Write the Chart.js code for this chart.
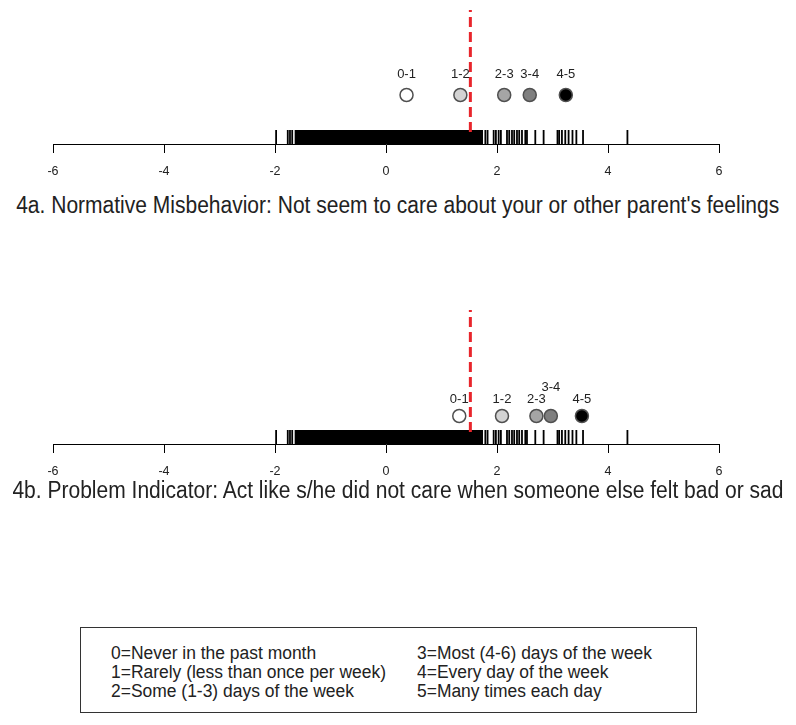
<!DOCTYPE html>
<html>
<head>
<meta charset="utf-8">
<script src="https://cdn.jsdelivr.net/npm/chart.js@4.4.1/dist/chart.umd.min.js"></script>
<style>
  body { margin: 0; background: #fff; font-family: "Liberation Sans", Arial, sans-serif; color: #222; }
  #wrap { position: relative; width: 796px; height: 725px; overflow: hidden; }
  .panel { position: absolute; left: 0; width: 796px; height: 190px; }
  .title { position: absolute; left: 0; width: 796px; height: 30px; line-height: 30px; font-size: 23px; white-space: nowrap; display: flex; justify-content: center; }
  .title span { display: inline-block; flex: none; transform-origin: center; }
  #legend { position: absolute; left: 80px; top: 627px; width: 615px; height: 84px; border: 1px solid #333; }
  .col { position: absolute; top: 16px; font-size: 18px; line-height: 19px; white-space: nowrap; transform-origin: left top; }
</style>
</head>
<body>
<div id="wrap">
  <div class="panel" style="top:0px"><canvas id="chart_a" width="796" height="190"></canvas></div>
  <div class="title" style="top:190px"><span class="fit" data-w="763">4a. Normative Misbehavior: Not seem to care about your or other parent's feelings</span></div>

  <div class="panel" style="top:300px"><canvas id="chart_b" width="796" height="190"></canvas></div>
  <div class="title" style="top:475px"><span class="fit" data-w="771">4b. Problem Indicator: Act like s/he did not care when someone else felt bad or sad</span></div>

  <div id="legend">
    <div class="col fit" data-w="275" style="left:30px">0=Never in the past month<br>1=Rarely (less than once per week)<br>2=Some (1-3) days of the week</div>
    <div class="col fit" data-w="235" style="left:336px">3=Most (4-6) days of the week<br>4=Every day of the week<br>5=Many times each day</div>
  </div>
</div>

<script>
// 数据
const xTicks = [-6, -4, -2, 0, 2, 4, 6];
const rugMarks = [-1.98, -1.77, -1.73, -1.69,
  1.79, 1.83, 1.94, 1.98, 2.03, 2.07, 2.18, 2.22, 2.27, 2.31, 2.36, 2.40, 2.45, 2.51, 2.54,
  2.69, 2.84, 3.09, 3.12, 3.17, 3.23, 3.29, 3.36, 3.43, 3.55, 4.35];
const denseRange = [-1.65, 1.75];   // rug too dense to separate
const cutPoint = 1.52;
const stepLabels = ["0-1", "1-2", "2-3", "3-4", "4-5"];
const stepFill = ["#ffffff", "#d3d3d3", "#a5a5a5", "#7f7f7f", "#000000"];
const stepLocA = [0.37, 1.34, 2.13, 2.59, 3.24];
const stepLocB = [1.32, 2.09, 2.71, 2.97, 3.53];

const FONT = '"Liberation Sans", Arial, sans-serif';
const RUG_H = 14;

// 标签插件
const stepLabelPlugin = {
  id: "stepLabels",
  afterDatasetsDraw(chart, args, opts) {
    const { ctx, scales } = chart;
    ctx.save();
    ctx.font = "13px " + FONT;
    ctx.fillStyle = "#222";
    ctx.textAlign = "center";
    ctx.textBaseline = "middle";
    opts.locs.forEach((v, i) => {
      ctx.fillText(stepLabels[i], scales.x.getPixelForValue(v), scales.y.getPixelForValue(opts.labelY[i]));
    });
    ctx.restore();
  }
};

function makePanel(id, locs, dotY, labelY) {
  new Chart(document.getElementById(id), {
    type: "scatter",
    data: {
      datasets: [
        {
          data: locs.map(v => ({ x: v, y: dotY })),
          backgroundColor: stepFill,
          borderColor: "#505050",
          borderWidth: 1.5,
          pointRadius: 6.5,
        },
        {
          type: "line",
          data: [{ x: cutPoint, y: 12 }, { x: cutPoint, y: 134 }],
          borderColor: "#e8252b",
          borderWidth: 3,
          borderDash: [10, 5],
          pointRadius: 0,
          fill: false,
        },
        {
          data: rugMarks.map(v => ({ x: v, y: RUG_H / 2 })),
          pointStyle: "line",
          rotation: 90,
          pointRadius: RUG_H / 2,
          borderColor: "#000",
          borderWidth: 1.8,
        },
        {
          type: "line",
          data: [{ x: denseRange[0], y: RUG_H }, { x: denseRange[1], y: RUG_H }],
          borderWidth: 0,
          pointRadius: 0,
          backgroundColor: "#000",
          fill: "origin",
        },
      ],
    },
    options: {
      responsive: false,
      animation: false,
      events: [],
      layout: { autoPadding: false, padding: { left: 53, right: 77, top: 0, bottom: 0 } },
      plugins: {
        legend: { display: false },
        tooltip: { enabled: false },
        stepLabels: { locs: locs, labelY: labelY },
      },
      scales: {
        x: {
          type: "linear",
          min: xTicks[0],
          max: xTicks[xTicks.length - 1],
          afterBuildTicks: s => { s.ticks = xTicks.map(v => ({ value: v })); },
          afterFit: s => { s.height = 46; },
          grid: { drawOnChartArea: false, tickLength: 9, color: "#000", lineWidth: 1 },
          border: { color: "#000", width: 1 },
          ticks: { color: "#222", font: { family: FONT, size: 12.5 }, padding: 11, maxRotation: 0 },
        },
        y: { display: false, min: 0, max: 144 },
      },
    },
    plugins: [stepLabelPlugin],
  });
}

makePanel("chart_a", stepLocA, 49, [70, 70, 70, 70, 70]);
makePanel("chart_b", stepLocB, 28, [45, 45, 45, 57, 45]);

// 文字宽度适配
document.querySelectorAll(".fit").forEach(el => {
  const w = el.getBoundingClientRect().width;
  el.style.transform = "scaleX(" + (Number(el.dataset.w) / w) + ")";
});
</script>
</body>
</html>
